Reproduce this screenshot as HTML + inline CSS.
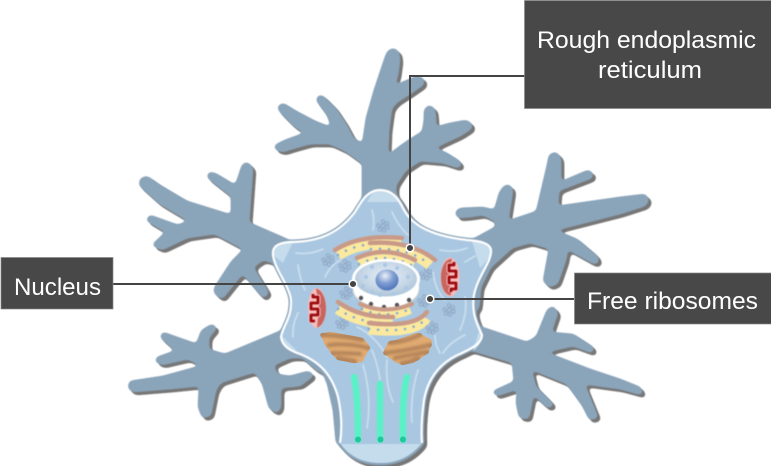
<!DOCTYPE html>
<html><head><meta charset="utf-8"><style>
html,body{margin:0;padding:0;background:#fff}
svg{display:block}
text{font-family:"Liberation Sans",sans-serif;font-size:24px;fill:#fff}
</style></head><body>
<svg width="771" height="466" viewBox="0 0 771 466" xmlns="http://www.w3.org/2000/svg">
<defs>
<filter id="goo" filterUnits="userSpaceOnUse" x="0" y="0" width="771" height="466" color-interpolation-filters="sRGB">
<feGaussianBlur stdDeviation="2.4"/>
<feColorMatrix type="matrix" values="1 0 0 0 0 0 1 0 0 0 0 0 1 0 0 0 0 0 10 -3"/>
<feGaussianBlur stdDeviation="0.4"/>
</filter>
<filter id="goo2" filterUnits="userSpaceOnUse" x="0" y="0" width="771" height="466" color-interpolation-filters="sRGB">
<feGaussianBlur stdDeviation="1.2"/>
<feColorMatrix type="matrix" values="1 0 0 0 0 0 1 0 0 0 0 0 1 0 0 0 0 0 8 -3"/>
</filter>
<filter id="soft" filterUnits="userSpaceOnUse" x="0" y="0" width="771" height="466" color-interpolation-filters="sRGB">
<feGaussianBlur stdDeviation="0.4"/>
</filter>
<radialGradient id="nc" cx="50%" cy="40%" r="58%"><stop offset="0" stop-color="#e6eef5"/><stop offset=".6" stop-color="#c9d9e8"/><stop offset="1" stop-color="#b0c6da"/></radialGradient>
<radialGradient id="nl" cx="42%" cy="30%" r="65%"><stop offset="0" stop-color="#eef2f8"/><stop offset=".55" stop-color="#7f9ed2"/><stop offset="1" stop-color="#5579bd"/></radialGradient>
<g id="den">
<polygon points="363,200 363,163 345,150 330,143 310,143 292,148 283,151 276,149 275,146 285,141 307,133 295,126 282,113 278,107 283,104 296,112 315,122 333,129 328,115 317,100 319,96 323,97 335,109 345,124 353,139 363,145 367,118 375,90 385,60 388,52 393,49 398,52 399,60 397,75 393,87 405,82 417,77 423,79 423,84 410,93 396,102 391,108 388,130 387,157 400,147 410,140 423,132 425,120 425,110 429,106 434,109 435,120 435,128 450,124 466,121 471,124 471,128 460,135 432,148 445,153 458,161 461,165 458,167 443,162 420,160 405,170 395,185 395,200"/>
<polygon points="287,262 287,240 248,223 252,168 247,163 243,165 237,183 235,186 215,174 209,173 208,177 214,182 232,196 232,216 187,202 160,186 147,177 141,179 140,185 160,203 190,221 178,226 150,216 147,220 167,232 153,245 162,249 187,237 215,233 245,249 232,262 215,288 215,293 222,298 242,273 245,275 263,297 268,293 252,267 263,259 277,263"/>
<polygon points="280,332 225,355 208,350 208,337 216,328 212,325 202,331 197,345 177,338 163,333 161,337 177,351 157,358 156,361 162,364 188,358 203,366 163,377 130,382 129,388 133,391 170,388 200,385 199,407 203,417 210,415 215,390 220,382 255,371 263,383 270,408 277,412 280,407 280,387 300,385 313,375 308,372 290,377 277,375 272,365 290,357 307,357"/>
<polygon points="475,239 497,227 495,220 483,214 470,216 458,217 456,212 460,209 483,208 495,211 500,193 505,186 510,186 512,190 507,222 537,212 548,165 550,155 556,153 560,158 560,183 588,171 592,173 592,177 558,190 557,207 620,198 645,195 648,200 645,205 620,213 553,230 577,240 597,257 598,262 594,263 567,248 565,260 557,283 550,286 544,281 550,248 530,242 512,247 490,267 480,287 478,310 460,270"/>
<polygon points="482,328 527,343 537,337 548,310 553,307 557,313 550,333 573,335 593,348 592,352 573,345 543,352 590,370 620,380 640,388 642,394 620,388 583,383 597,417 590,419 583,405 567,383 530,368 535,387 553,405 548,407 533,393 528,418 520,417 517,403 518,388 497,395 493,392 515,382 513,362 473,350"/>
<path d="M380,190 C392,190 398,198 403,208 C410,222 425,235 467,240 C480,241 490,243 491,250 C492,262 478,275 474,295 C471,315 478,325 482,335 C482,342 475,347 462,353 C440,362 428,378 424,400 C422,415 421,430 422,443 C410,458 395,463 381,463 C365,463 350,458 340,443 C342,430 342,415 338,397 C332,375 320,362 300,354 C288,350 282,345 281,337 C283,325 292,318 291,300 C289,285 275,270 273,255 C272,247 277,243 290,242 C320,242 340,232 355,212 C362,200 368,190 380,190 Z" stroke-width="3"/>
<polygon points="300,354 313,363 328,383 334,410 337,443 345,443 345,397"/>
</g>
<g id="rb" fill="none" stroke="#8ea6c4" stroke-width="1">
<circle cx="0" cy="-4.500" r="1.700"/><circle cx="4" cy="-2.500" r="1.700"/><circle cx="4.500" cy="1.500" r="1.700"/><circle cx="1" cy="4.500" r="1.700"/><circle cx="-3" cy="3.500" r="1.700"/><circle cx="-4.500" cy="-.5" r="1.700"/><circle cx="0" cy="0" r="1.700"/>
</g>
</defs>

<use href="#den" x="3" y="3" fill="#777" stroke="#777" filter="url(#goo)"/>
<use href="#den" fill="#8aa4ba" stroke="#8aa4ba" filter="url(#goo)"/>

<g filter="url(#soft)">
<path d="M380,190 C392,190 398,198 403,208 C410,222 425,235 467,240 C480,241 490,243 491,250 C492,262 478,275 474,295 C471,315 478,325 482,335 C482,342 475,347 462,353 C440,362 428,378 424,400 C422,415 421,430 422,443 C410,458 395,463 381,463 C365,463 350,458 340,443 C342,430 342,415 338,397 C332,375 320,362 300,354 C288,350 282,345 281,337 C283,325 292,318 291,300 C289,285 275,270 273,255 C272,247 277,243 290,242 C320,242 340,232 355,212 C362,200 368,190 380,190 Z" fill="#a9c7e1"/>

<g fill="#c5dcec">
<path d="M340,443 H422 C410,458 395,463 381,463 C365,463 350,458 340,443 Z"/>
<path d="M367,202 C371,194 375,190 380,190 C388,190 394,195 398,202 Z"/>
<path d="M273,255 C272,247 277,243 293,242 L283,263 Z"/>
<path d="M472,241 C482,242 491,244 491,252 C490,258 485,263 480,268 Z"/>
<path d="M282,336 L297,351 C288,349 282,345 281,338 Z"/>
<path d="M473,351 C478,347 482,342 482,335 L479,331 Z"/>
</g>

<g fill="none" stroke="#c9deee" stroke-width="1.800" stroke-linecap="round">
<path d="M296,253 Q310,255 323,249"/><path d="M298,265 Q300,280 305,290"/><path d="M325,277 Q330,266 340,260"/>
<path d="M372,210 Q375,220 373,230"/><path d="M392,212 Q398,226 408,235"/><path d="M440,250 Q455,253 467,248"/>
<path d="M465,262 L475,256"/><path d="M460,330 Q468,312 465,297"/><path d="M293,337 Q292,325 298,313"/>
<path d="M435,335 Q435,345 440,353"/><path d="M372,350 Q378,365 380,380"/><path d="M363,365 Q372,395 367,428"/>
<path d="M387,360 Q385,385 393,402"/><path d="M418,370 Q410,395 412,422"/><path d="M443,353 Q450,342 465,335"/>
<path d="M357,327 Q375,335 387,357"/><path d="M433,272 Q435,290 445,300"/>
</g>

<path d="M340,443 C342,430 342,415 338,397 C332,375 320,362 300,354 C288,350 282,345 281,337 C283,325 292,318 291,300 C289,285 275,270 273,255 C272,247 277,243 290,242 C320,242 340,232 355,212 C362,200 368,190 380,190 C392,190 398,198 403,208 C410,222 425,235 467,240 C480,241 490,243 491,250 C492,262 478,275 474,295 C471,315 478,325 482,335 C482,342 475,347 462,353 C440,362 428,378 424,400 C422,415 421,430 422,443" fill="none" stroke="#fff" stroke-width="2.200"/>
<path d="M340,443.500 H422" stroke="#a8c6e0" stroke-width="1"/>

<g>
<use href="#rb" x="383" y="226"/><use href="#rb" x="328" y="260"/><use href="#rb" x="345" y="266"/>
<use href="#rb" x="426" y="274"/><use href="#rb" x="346" y="293"/><use href="#rb" x="424" y="301"/>
<use href="#rb" x="449" y="310"/><use href="#rb" x="342" y="323"/><use href="#rb" x="432" y="328"/>
</g>

<g fill="none">
<path d="M338,255 Q362,240 401,244" stroke="#fbe9a0" stroke-width="11"/>
<path d="M338,255 Q362,240 401,244" stroke="#7fa8cf" stroke-width="2.500" stroke-linecap="round" stroke-dasharray="0 9"/>
<path d="M335,250 Q360,234 402,238" stroke="#c99a88" stroke-width="4.500" stroke-linecap="round"/>
<path d="M371,249 Q410,247 430,265" stroke="#fbe9a0" stroke-width="11"/>
<path d="M371,249 Q410,247 430,265" stroke="#7fa8cf" stroke-width="2.500" stroke-linecap="round" stroke-dasharray="0 9"/>
<path d="M370,243 Q410,240 435,260" stroke="#c99a88" stroke-width="4.500" stroke-linecap="round"/>
<path d="M359,264 Q385,251 413,266" stroke="#fbe9a0" stroke-width="11"/>
<path d="M359,264 Q385,251 413,266" stroke="#7fa8cf" stroke-width="2.500" stroke-linecap="round" stroke-dasharray="0 9"/>
<path d="M357,258 Q385,245 415,260" stroke="#c99a88" stroke-width="4.500" stroke-linecap="round"/>
</g>

<ellipse cx="386" cy="289" rx="33" ry="19" fill="#fff" stroke="#d0d0d0" stroke-width="1"/>
<rect x="353" y="279" width="66" height="10" fill="#fff"/>
<ellipse cx="386" cy="279" rx="34" ry="20" fill="#fff"/>
<ellipse cx="386" cy="279" rx="31" ry="17.500" fill="url(#nc)"/>
<g fill="#a9c8e6">
<circle cx="366" cy="277" r="2"/><circle cx="363" cy="286" r="2"/><circle cx="372" cy="267" r="2"/><circle cx="397" cy="268" r="2"/><circle cx="408" cy="277" r="2"/><circle cx="406" cy="288" r="2"/><circle cx="372" cy="292" r="2"/><circle cx="380" cy="295" r="2"/><circle cx="394" cy="294" r="2"/><circle cx="385" cy="265" r="2"/>
</g>
<ellipse cx="387" cy="280" rx="11.500" ry="10.500" fill="url(#nl)"/>
<g fill="#555">
<circle cx="361" cy="298" r="2.200"/><circle cx="371" cy="304" r="2.200"/><circle cx="384" cy="307" r="2.200"/><circle cx="397" cy="305" r="2.200"/><circle cx="409" cy="300" r="2.200"/>
</g>

<g fill="none">
<path d="M362,309 Q385,320 410,309" stroke="#fbe9a0" stroke-width="10"/>
<path d="M362,309 Q385,320 410,309" stroke="#7fa8cf" stroke-width="2.500" stroke-linecap="round" stroke-dasharray="0 9"/>
<path d="M360,304 Q385,315 412,304" stroke="#c99a88" stroke-width="4" stroke-linecap="round"/>
<path d="M338,309 Q360,324 393,323" stroke="#fbe9a0" stroke-width="11"/>
<path d="M338,309 Q360,324 393,323" stroke="#7fa8cf" stroke-width="2.500" stroke-linecap="round" stroke-dasharray="0 9"/>
<path d="M338,302 Q360,318 393,317" stroke="#c99a88" stroke-width="4.500" stroke-linecap="round"/>
<path d="M369,329 Q415,334 426,318" stroke="#fbe9a0" stroke-width="11"/>
<path d="M369,329 Q415,334 426,318" stroke="#7fa8cf" stroke-width="2.500" stroke-linecap="round" stroke-dasharray="0 9"/>
<path d="M369,323 Q415,328 427,312" stroke="#c99a88" stroke-width="4.500" stroke-linecap="round"/>
</g>

<ellipse cx="450" cy="277" rx="9.500" ry="19.500" fill="#f8bdbb"/>
<path d="M452,258.500 C444,259 441,269 441,277 C441,286 444,295 451,295.500 L449,277 Z" fill="#c9655f"/>
<path d="M454,262 V265 H449 V271 H456 V277 H449 V283 H456 V289 H451 V292" fill="none" stroke="#f8bdbb" stroke-width="5" stroke-linejoin="round"/>
<path d="M454,262 V265 H449 V271 H456 V277 H449 V283 H456 V289 H451 V292" fill="none" stroke="#9d0b10" stroke-width="2.800" stroke-linejoin="round"/>
<ellipse cx="317" cy="308" rx="9" ry="20" fill="#f8bdbb"/>
<path d="M316,288.500 C323,290 326,300 326,308 C326,317 323,326 317,327.500 L319,308 Z" fill="#c9655f"/>
<path d="M313,294 V297 H318 V303 H311 V309 H318 V315 H311 V321 H315" fill="none" stroke="#f8bdbb" stroke-width="5" stroke-linejoin="round"/>
<path d="M313,294 V297 H318 V303 H311 V309 H318 V315 H311 V321 H315" fill="none" stroke="#9d0b10" stroke-width="2.800" stroke-linejoin="round"/>
</g>

<g filter="url(#goo2)">
<polygon points="321,334 330,332 363,338 370,347 362,362 352,363 335,357 325,345" fill="#e0aa70"/>
<polygon points="388,343 417,333 432,340 428,353 413,363 397,363 383,353" fill="#e0aa70"/>
<g fill="none" stroke="#b5855a" stroke-width="4" stroke-linecap="round">
<path d="M322,335 Q345,336 362,340"/><path d="M329,345 Q350,343 368,348"/><path d="M333,353 Q350,353 360,354"/><path d="M338,358 Q350,360 355,361"/>
<path d="M390,343 Q405,342 420,335"/><path d="M385,353 Q410,350 430,345"/><path d="M395,358 Q410,355 427,352"/><path d="M402,363 Q410,362 418,358"/>
</g>
</g>

<g fill="none" stroke-linecap="round" filter="url(#soft)">
<path d="M354,377 Q358,395 358,440" stroke="#7fe0d0" stroke-width="7"/>
<path d="M380,384 V440" stroke="#7fe0d0" stroke-width="7"/>
<path d="M407,377 Q402,395 403,440" stroke="#7fe0d0" stroke-width="7"/>
<path d="M354,377 Q358,395 358,440" stroke="#58f2c6" stroke-width="5.500"/>
<path d="M380,384 V440" stroke="#58f2c6" stroke-width="5.500"/>
<path d="M407,377 Q402,395 403,440" stroke="#58f2c6" stroke-width="5.500"/>
</g>
<g fill="#1dc89a"><circle cx="358" cy="439.500" r="3"/><circle cx="380.500" cy="439.500" r="3"/><circle cx="403" cy="439.500" r="3"/></g>

<g fill="none" stroke="#444" stroke-width="2">
<path d="M525,76 H410 V248"/>
<path d="M113,284 H353"/>
<path d="M430,299 H574"/>
</g>
<g fill="#444" stroke="#fff" stroke-width="1.500">
<circle cx="410" cy="248" r="3.800"/><circle cx="353" cy="284" r="3.800"/><circle cx="430" cy="299" r="3.800"/>
</g>

<g fill="#484848" stroke="#888" stroke-width=".7">
<rect x="524.500" y="0.500" width="247" height="108"/>
<rect x="1" y="257.500" width="112" height="51.500"/>
<rect x="574.500" y="273" width="197" height="51"/>
</g>
<text x="537" y="48" textLength="219" lengthAdjust="spacingAndGlyphs">Rough endoplasmic</text>
<text x="598" y="78" textLength="104" lengthAdjust="spacingAndGlyphs">reticulum</text>
<text x="14" y="295" textLength="87" lengthAdjust="spacingAndGlyphs">Nucleus</text>
<text x="587" y="309" textLength="171" lengthAdjust="spacingAndGlyphs">Free ribosomes</text>
</svg>
</body></html>
